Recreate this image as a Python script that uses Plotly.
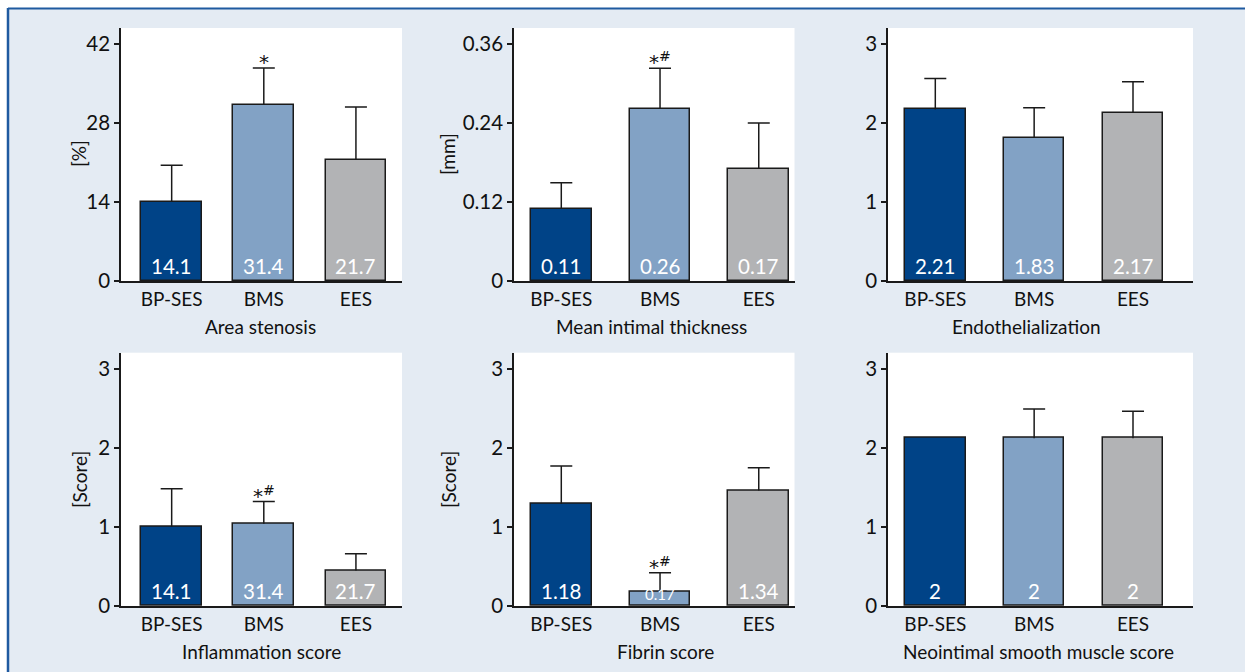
import plotly.graph_objects as go

# ---------------- data ----------------
categories = ["BP-SES", "BMS", "EES"]

area_stenosis = [14.0, 31.2, 21.5]
area_stenosis_err = [6.5, 6.5, 9.3]
area_stenosis_labels = ["14.1", "31.4", "21.7"]
area_stenosis_sig = ["", "*", ""]

intimal_thickness = [0.110, 0.261, 0.170]
intimal_thickness_err = [0.039, 0.062, 0.070]
intimal_thickness_labels = ["0.11", "0.26", "0.17"]
intimal_thickness_sig = ["", "*<sup>#</sup>", ""]

endothelialization = [2.17, 1.81, 2.13]
endothelialization_err = [0.39, 0.38, 0.39]
endothelialization_labels = ["2.21", "1.83", "2.17"]
endothelialization_sig = ["", "", ""]

inflammation = [1.00, 1.04, 0.45]
inflammation_err = [0.48, 0.28, 0.21]
inflammation_labels = ["14.1", "31.4", "21.7"]
inflammation_sig = ["", "*<sup>#</sup>", ""]

fibrin = [1.29, 0.185, 1.46]
fibrin_err = [0.48, 0.235, 0.285]
fibrin_labels = ["1.18", "0.17", "1.34"]
fibrin_sig = ["", "*<sup>#</sup>", ""]

smooth_muscle = [2.12, 2.12, 2.12]
smooth_muscle_err = [0.0, 0.37, 0.34]
smooth_muscle_labels = ["2", "2", "2"]
smooth_muscle_sig = ["", "", ""]

area_ticks = [0, 14, 28, 42]
thickness_ticks = [0, 0.12, 0.24, 0.36]
score_ticks = [0, 1, 2, 3]

panel_titles = ["Area stenosis", "Mean intimal thickness", "Endothelialization",
                "Inflammation score", "Fibrin score", "Neointimal smooth muscle score"]
y_titles = ["[%]", "[mm]", "", "[Score]", "[Score]", "[Score]"]

# ---------------- style / layout ----------------
W = 1245
H = 683        # layout height; the capture shows it ~11 px shorter (about 672 px)
REF_H = 672    # pixel rows below are measured on the 672-px reference
FONT = "Lato, sans-serif"
STAR_FONT = "DejaVu Sans, sans-serif"
FS_WORD = 19
FS_NUM = 20.5
bar_colors = ["#004387", "#82a2c5", "#b2b3b5"]
INK = "#1a1a1a"
BG = "#e4ebf3"
BORDER = "#1f5aa0"


def py(p):
    """reference pixel row -> paper fraction"""
    return 1 - p / REF_H


col_px = [(121, 402), (514, 794.5), (888, 1193)]
row_px = [(28, 281), (352.7, 606)]
x_ranges = [[-0.55, 2.5], [-0.479, 2.362], [-0.4785, 2.607]]
bar_widths = [0.66, 0.614, 0.613]
ytitle_x = [79, 448, None]
ytitle_y = [154, 480]
xtitle_x = [[260, 651, 1026], [261, 665, 1038.5]]
xtitle_y = [326, 651.7]

panels = [
    (area_stenosis, area_stenosis_err, area_stenosis_labels, area_stenosis_sig, area_ticks, [0, 44.8]),
    (intimal_thickness, intimal_thickness_err, intimal_thickness_labels, intimal_thickness_sig, thickness_ticks, [0, 0.384]),
    (endothelialization, endothelialization_err, endothelialization_labels, endothelialization_sig, score_ticks, [0, 3.2]),
    (inflammation, inflammation_err, inflammation_labels, inflammation_sig, score_ticks, [0, 3.2]),
    (fibrin, fibrin_err, fibrin_labels, fibrin_sig, score_ticks, [0, 3.2]),
    (smooth_muscle, smooth_muscle_err, smooth_muscle_labels, smooth_muscle_sig, score_ticks, [0, 3.2]),
]

fig = go.Figure()
annotations = []
layout_axes = {}

for i, (vals, errs, labels, sigs, ticks, yr) in enumerate(panels):
    r, c = divmod(i, 3)
    n = i + 1
    xa = "x" if n == 1 else f"x{n}"
    ya = "y" if n == 1 else f"y{n}"
    xkey = "xaxis" if n == 1 else f"xaxis{n}"
    ykey = "yaxis" if n == 1 else f"yaxis{n}"
    x0, x1 = col_px[c]
    y0, y1 = row_px[r]
    plot_h = y1 - y0

    # bars with the vertical whisker (no caps)
    fig.add_trace(go.Bar(
        x=categories, y=vals, xaxis=xa, yaxis=ya,
        width=bar_widths[c],
        marker=dict(color=bar_colors, line=dict(color=INK, width=1.5)),
        error_y=dict(type="data", symmetric=False, array=errs,
                     arrayminus=[0] * len(errs), color=INK, thickness=1.5, width=0),
        showlegend=False, hoverinfo="skip",
    ))
    # cap at the top of each whisker only
    tops = [v + e if e > 0 else None for v, e in zip(vals, errs)]
    fig.add_trace(go.Scatter(
        x=categories, y=tops, xaxis=xa, yaxis=ya, mode="markers",
        marker=dict(size=1, color="rgba(0,0,0,0)"),
        error_y=dict(type="data", symmetric=True, array=[0] * len(tops),
                     color=INK, thickness=1.5, width=11),
        showlegend=False, hoverinfo="skip",
    ))

    layout_axes[xkey] = dict(
        domain=[x0 / W, x1 / W], anchor=ya, type="category",
        range=x_ranges[c], showline=True, linecolor=INK, linewidth=1.5,
        ticks="", showgrid=False, zeroline=False,
        tickfont=dict(family=FONT, size=FS_WORD, color="#111"),
    )
    layout_axes[ykey] = dict(
        domain=[py(y1), py(y0)], anchor=xa,
        range=yr, tickvals=ticks, showline=True, linecolor=INK, linewidth=1.5,
        ticks="outside", ticklen=5, tickwidth=1.5, tickcolor=INK,
        showgrid=False, zeroline=False,
        tickfont=dict(family=FONT, size=FS_NUM, color="#111"),
    )

    # value labels inside the bars
    for cat, v, lab in zip(categories, vals, labels):
        bar_px = v / (yr[1] - yr[0]) * plot_h
        annotations.append(dict(
            x=cat, y=0, xref=xa, yref=ya, text=lab, showarrow=False,
            yanchor="bottom", yshift=1,
            font=dict(family=FONT, size=15 if bar_px < 25 else FS_NUM, color="white"),
        ))
    # significance markers
    for cat, v, e, s in zip(categories, vals, errs, sigs):
        if s:
            annotations.append(dict(
                x=cat, y=v + e, xref=xa, yref=ya, text=s, showarrow=False,
                yanchor="bottom", yshift=-8,
                font=dict(family=STAR_FONT, size=20, color="#111"),
            ))
    # axis titles
    if ytitle_x[c] is not None and y_titles[i]:
        annotations.append(dict(
            x=ytitle_x[c] / W, y=py(ytitle_y[r]), xref="paper", yref="paper",
            text=y_titles[i], showarrow=False, textangle=-90,
            xanchor="center", yanchor="middle",
            font=dict(family=FONT, size=FS_WORD, color="#111"),
        ))
    annotations.append(dict(
        x=xtitle_x[r][c] / W, y=py(xtitle_y[r]), xref="paper", yref="paper",
        text=panel_titles[i], showarrow=False, xanchor="center", yanchor="middle",
        font=dict(family=FONT, size=FS_WORD, color="#111"),
    ))

shapes = [
    dict(type="rect", xref="paper", yref="paper", x0=0, x1=1, y0=py(8), y1=1.02,
         fillcolor="white", line=dict(width=0), layer="below"),
    dict(type="rect", xref="paper", yref="paper", x0=0, x1=7 / W, y0=-0.02, y1=1.02,
         fillcolor="white", line=dict(width=0), layer="below"),
    dict(type="line", xref="paper", yref="paper", x0=8 / W, x1=1, y0=py(8.5), y1=py(8.5),
         line=dict(color=BORDER, width=2), layer="below"),
    dict(type="line", xref="paper", yref="paper", x0=8 / W, x1=8 / W, y0=-0.02, y1=py(8),
         line=dict(color=BORDER, width=2.5), layer="below"),
]

fig.update_layout(
    width=W, height=H, autosize=False, margin=dict(l=0, r=0, t=0, b=0),
    paper_bgcolor=BG, plot_bgcolor="white",
    annotations=annotations, shapes=shapes, bargap=0,
    font=dict(family=FONT, size=FS_WORD, color="#111"),
    **layout_axes,
)

fig.write_html(
    "out.html",
    config={"responsive": False, "displayModeBar": False},
    post_script=(
        "document.body.style.margin='0';"
        "document.body.style.overflow='hidden';"
        "document.body.style.background='" + BG + "';"
    ),
)
